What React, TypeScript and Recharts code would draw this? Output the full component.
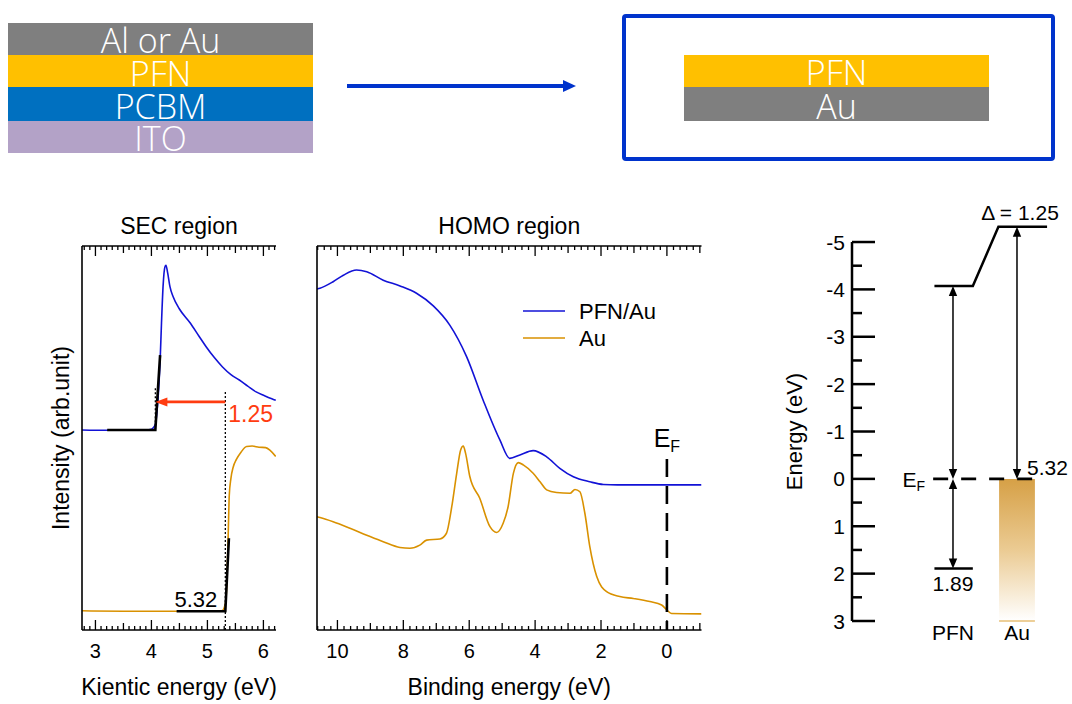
import React from 'react';
import {
  LineChart,
  Line,
  XAxis,
  YAxis,
  Legend,
  ReferenceLine,
  ReferenceDot,
  ReferenceArea,
} from 'recharts';

const FONT = '"Liberation Sans", Arial, sans-serif';
const LAYER_FONT = '"Open Sans", "Noto Sans", sans-serif';
const BLUE = '#1212D6';
const GOLD = '#D99100';
const RED = '#FF3C10';
const ARROW_BLUE = '#0033CC';

// device stack and measured sample
const stackLayers = ['Al or Au', 'PFN', 'PCBM', 'ITO'];
const stackColors = ['#7F7F7F', '#FFC000', '#0070C0', '#B3A2C7'];
const sampleLayers = ['PFN', 'Au'];
const sampleColors = ['#FFC000', '#7F7F7F'];

// energy levels (eV), Fermi level at 0
const auWorkFunction = 5.32;
const dipoleShift = 1.25;
const pfnHomoOffset = 1.89;

// SEC region: kinetic energy (eV), intensity (arb. unit)
const secPfnAu: [number, number][] = [
  [2.76, 52.1], [3.2, 52.0], [3.6, 52.1], [3.9, 52.1], [4.0, 52.3], [4.04, 52.8],
  [4.07, 53.5], [4.1, 57], [4.13, 63], [4.155, 70], [4.18, 80], [4.21, 90],
  [4.24, 94.5], [4.26, 95], [4.29, 93], [4.33, 89.5], [4.39, 86.7], [4.5, 83.6],
  [4.69, 80], [4.85, 76.5], [4.98, 73.7], [5.12, 71], [5.27, 68.5], [5.42, 66.5],
  [5.57, 65.1], [5.72, 63.5], [5.87, 62], [6.02, 61], [6.15, 60.2], [6.22, 59.8],
];
const secAu: [number, number][] = [
  [2.76, 5.0], [3.5, 4.9], [4.5, 4.9], [5.2, 4.9], [5.27, 5.1], [5.3, 5.8],
  [5.33, 7.8], [5.355, 16], [5.375, 27], [5.39, 35], [5.42, 39.5], [5.46, 42.4],
  [5.52, 44.5], [5.6, 46.3], [5.7, 47.8], [5.8, 47.9], [5.92, 47.6], [6.04, 47.5],
  [6.12, 46.8], [6.22, 45.2],
];
// linear fits of the cutoff edges
const secPfnAuFit: [number, number][] = [[3.21, 52.1], [auWorkFunction - dipoleShift, 52.1], [4.155, 71.6]];
const secAuFit: [number, number][] = [[4.45, 4.9], [auWorkFunction, 4.9], [5.384, 23.9]];
const secTickLabels = [3, 4, 5, 6];

// HOMO region: binding energy (eV), intensity (arb. unit)
const homoSeries = ['PFN/Au', 'Au'];
const homoPfnAu: [number, number][] = [
  [10.62, 88.8], [10.53, 89.0], [10.13, 90.7], [9.82, 92.4], [9.42, 93.75], [9.11, 93.3],
  [8.61, 91.1], [8.1, 89.6], [7.6, 87.7], [7.09, 84.4], [6.59, 79.4], [6.08, 71.2],
  [5.58, 59.9], [5.07, 49.5], [4.77, 44.7], [4.46, 45.6], [4.06, 46.7], [3.65, 45.1],
  [3.25, 42.1], [2.84, 39.9], [2.34, 38.6], [1.93, 37.9], [1.5, 37.8], [0.5, 37.8],
  [-1.05, 37.8],
];
const homoAu: [number, number][] = [
  [10.62, 29.5], [10.53, 29.3], [10.13, 28.2], [9.62, 26.5], [9.11, 24.7], [8.61, 23.0],
  [8.1, 21.5], [7.8, 21.3], [7.5, 22.1], [7.29, 23.4], [6.89, 23.7], [6.69, 25.2],
  [6.53, 32.1], [6.38, 40.8], [6.26, 46.9], [6.18, 47.9], [6.11, 46.0], [5.98, 39.9],
  [5.68, 34.3], [5.37, 26.9], [5.17, 25.4], [4.97, 27.8], [4.82, 32.1], [4.66, 40.8],
  [4.51, 43.6], [4.36, 43.0], [4.06, 40.8], [3.85, 38.6], [3.65, 36.5], [3.35, 35.8],
  [2.94, 35.6], [2.79, 36.6], [2.64, 36.0], [2.49, 30.4], [2.34, 21.7], [2.13, 13.9],
  [1.83, 10.0], [1.43, 8.7], [1.02, 8.2], [0.52, 7.4], [0.16, 6.5], [0.0, 5.2],
  [-0.14, 4.3], [-1.05, 4.2],
];
const homoTickLabels = [10, 8, 6, 4, 2, 0];

const energyTicks = [-5, -4.5, -4, -3.5, -3, -2.5, -2, -1.5, -1, -0.5, 0, 0.5, 1, 1.5, 2, 2.5, 3];

const SEC_DOMAIN: [number, number] = [2.76, 6.225];
const HOMO_DOMAIN: [number, number] = [-1.05, 10.62];
const INTENSITY: [number, number] = [0, 100];

const steps = (from: number, to: number, step: number) => {
  const out: number[] = [];
  for (let v = from; v <= to + 1e-9; v += step) out.push(Math.round(v * 100) / 100);
  return out;
};
const secTicks = steps(2.8, 6.2, 0.1);
const homoTicks = steps(-1.0, 10.6, 0.2);

const toPoints = (pairs: [number, number][]) => pairs.map(([x, y]) => ({ x, y }));
const isMultiple = (v: number, step: number) => Math.abs(v / step - Math.round(v / step)) < 1e-6;

const frameLine = { stroke: '#000', strokeWidth: 1.6 };

// inward ticks on the top/bottom frame, numbers only under the bottom one
const frameTick = (side: 'top' | 'bottom', major: number, mid: number, labels: number[]) => (props: any) => {
  const { x, y, payload } = props;
  const v = payload.value as number;
  const len = isMultiple(v, major) ? 10 : isMultiple(v, mid) ? 7 : 4;
  const dir = side === 'bottom' ? -1 : 1;
  const idx = side === 'bottom' ? labels.findIndex((l) => Math.abs(l - v) < 1e-6) : -1;
  return (
    <g>
      <line x1={x} x2={x} y1={y} y2={y + dir * len} stroke="#000" strokeWidth={1.3} />
      {idx >= 0 && (
        <text x={x} y={y + 28} textAnchor="middle" fontSize={20} fill="#000">
          {labels[idx]}
        </text>
      )}
    </g>
  );
};

type ArrowOpts = { color: string; width: number; head: number; half: number; start?: boolean; end?: boolean };
const arrowShape = ({ color, width, head, half, start, end }: ArrowOpts) => (p: any) => {
  const { x1, y1, x2, y2 } = p;
  const len = Math.hypot(x2 - x1, y2 - y1) || 1;
  const ux = (x2 - x1) / len;
  const uy = (y2 - y1) / len;
  const tri = (tx: number, ty: number, dx: number, dy: number) => {
    const bx = tx - dx * head;
    const by = ty - dy * head;
    return `${tx},${ty} ${bx - dy * half},${by + dx * half} ${bx + dy * half},${by - dx * half}`;
  };
  const sx = start ? x1 + ux * head * 0.8 : x1;
  const sy = start ? y1 + uy * head * 0.8 : y1;
  const ex = end ? x2 - ux * head * 0.8 : x2;
  const ey = end ? y2 - uy * head * 0.8 : y2;
  return (
    <g>
      <line x1={sx} y1={sy} x2={ex} y2={ey} stroke={color} strokeWidth={width} />
      {start && <polygon points={tri(x1, y1, -ux, -uy)} fill={color} />}
      {end && <polygon points={tri(x2, y2, ux, uy)} fill={color} />}
    </g>
  );
};

type TextOpts = { dx?: number; dy?: number; anchor?: 'start' | 'middle' | 'end'; size?: number; color?: string; rotate?: boolean };
const textAt = (content: React.ReactNode, o: TextOpts) => (p: any) => {
  const x = p.cx + (o.dx ?? 0);
  const y = p.cy + (o.dy ?? 0);
  return (
    <text
      x={x}
      y={y}
      dy={o.rotate ? '0.35em' : undefined}
      textAnchor={o.anchor ?? 'middle'}
      fontSize={o.size ?? 21}
      fill={o.color ?? '#000'}
      transform={o.rotate ? `rotate(-90 ${x} ${y})` : undefined}
    >
      {content}
    </text>
  );
};

const Schematic = () => {
  const stackEdges = [23, 55, 87, 121, 153];
  const stackBase = [53, 86, 119, 151];
  const sampleEdges = [55, 87, 121];
  const sampleBase = [85, 119];
  return (
    <svg width={1072} height={175} style={{ position: 'absolute', left: 0, top: 0 }}>
      {stackLayers.map((name, i) => (
        <g key={name}>
          <rect x={8} y={stackEdges[i]} width={305} height={stackEdges[i + 1] - stackEdges[i]} fill={stackColors[i]} />
          <text x={160.5} y={stackBase[i]} textAnchor="middle" fill="#fff" fontSize={34} fontFamily={LAYER_FONT} fontWeight={300}>
            {name}
          </text>
        </g>
      ))}
      <line x1={347} y1={86} x2={564} y2={86} stroke={ARROW_BLUE} strokeWidth={4} />
      <polygon points="563,80 576,86 563,92" fill={ARROW_BLUE} />
      <rect x={624} y={16} width={429} height={143} fill="none" stroke={ARROW_BLUE} strokeWidth={4} rx={2} />
      {sampleLayers.map((name, i) => (
        <g key={name}>
          <rect x={684} y={sampleEdges[i]} width={305} height={sampleEdges[i + 1] - sampleEdges[i]} fill={sampleColors[i]} />
          <text x={836.5} y={sampleBase[i]} textAnchor="middle" fill="#fff" fontSize={34} fontFamily={LAYER_FONT} fontWeight={300}>
            {name}
          </text>
        </g>
      ))}
    </svg>
  );
};

const SecPanel = () => {
  const pfnCutoff = auWorkFunction - dipoleShift;
  return (
    <div style={{ position: 'absolute', left: 0, top: 190 }}>
      <LineChart width={300} height={514} margin={{ top: 0, right: 24, bottom: 0, left: 0 }}>
        <XAxis
          type="number"
          dataKey="x"
          domain={SEC_DOMAIN}
          allowDataOverflow
          ticks={secTicks}
          interval={0}
          height={74}
          tickSize={0}
          tickMargin={0}
          tickLine={false}
          axisLine={frameLine}
          tick={frameTick('bottom', 1, 0.5, secTickLabels)}
          label={{ value: 'Kientic energy (eV)', position: 'insideBottom', offset: 9, fontSize: 23, fill: '#000' }}
        />
        <XAxis
          xAxisId="top"
          orientation="top"
          type="number"
          dataKey="x"
          domain={SEC_DOMAIN}
          allowDataOverflow
          ticks={secTicks}
          interval={0}
          height={56}
          tickSize={0}
          tickMargin={0}
          tickLine={false}
          axisLine={frameLine}
          tick={frameTick('top', 1, 0.5, [])}
          label={{ value: 'SEC region', position: 'insideTop', offset: 28, fontSize: 23, fill: '#000' }}
        />
        <YAxis
          type="number"
          domain={INTENSITY}
          allowDataOverflow
          width={82}
          tick={false}
          tickLine={false}
          axisLine={frameLine}
          label={{ value: 'Intensity (arb.unit)', angle: -90, position: 'insideLeft', offset: 61, fontSize: 23, fill: '#000', style: { textAnchor: 'middle' } }}
        />
        <YAxis yAxisId="right" orientation="right" type="number" domain={INTENSITY} width={0} tick={false} tickLine={false} axisLine={frameLine} />

        <Line data={toPoints(secPfnAu)} dataKey="y" type="monotone" stroke={BLUE} strokeWidth={1.6} dot={false} activeDot={false} isAnimationActive={false} />
        <Line data={toPoints(secAu)} dataKey="y" type="monotone" stroke={GOLD} strokeWidth={1.6} dot={false} activeDot={false} isAnimationActive={false} />
        <Line data={toPoints(secPfnAuFit)} dataKey="y" type="linear" stroke="#000" strokeWidth={2.6} dot={false} activeDot={false} legendType="none" isAnimationActive={false} />
        <Line data={toPoints(secAuFit)} dataKey="y" type="linear" stroke="#000" strokeWidth={2.6} dot={false} activeDot={false} legendType="none" isAnimationActive={false} />

        <ReferenceLine segment={[{ x: pfnCutoff, y: 52 }, { x: pfnCutoff, y: 63 }]} stroke="#000" strokeWidth={1.3} strokeDasharray="2 2" />
        <ReferenceLine segment={[{ x: auWorkFunction, y: 0 }, { x: auWorkFunction, y: 62.5 }]} stroke="#000" strokeWidth={1.3} strokeDasharray="2 2" />
        <ReferenceLine
          segment={[{ x: auWorkFunction, y: 59.4 }, { x: pfnCutoff, y: 59.4 }]}
          shape={arrowShape({ color: RED, width: 2.6, head: 12, half: 4.5, end: true })}
        />
        <ReferenceDot x={auWorkFunction} y={54.2} shape={textAt(dipoleShift.toFixed(2), { dx: 3, anchor: 'start', size: 23, color: RED })} />
        <ReferenceDot x={auWorkFunction} y={4.9} shape={textAt(auWorkFunction.toFixed(2), { dx: -8, dy: -4.5, anchor: 'end', size: 22 })} />
      </LineChart>
    </div>
  );
};

// legend rows keep the series order (PFN/Au above Au)
const renderLegend = (props: any) => {
  const items = [...(props.payload || [])].sort(
    (a: any, b: any) => homoSeries.indexOf(a.value) - homoSeries.indexOf(b.value),
  );
  return (
    <div style={{ fontFamily: FONT, fontSize: 22, color: '#000' }}>
      {items.map((p: any) => (
        <div key={p.value} style={{ display: 'flex', alignItems: 'center', height: 27 }}>
          <svg width={42} height={4}>
            <line x1={0} x2={42} y1={2} y2={2} stroke={p.color} strokeWidth={1.6} />
          </svg>
          <span style={{ marginLeft: 14, lineHeight: '27px' }}>{p.value}</span>
        </div>
      ))}
    </div>
  );
};

const HomoPanel = () => (
  <div style={{ position: 'absolute', left: 300, top: 190 }}>
    <LineChart width={420} height={514} margin={{ top: 0, right: 18.5, bottom: 0, left: 0 }}>
      <XAxis
        type="number"
        dataKey="x"
        domain={HOMO_DOMAIN}
        allowDataOverflow
        reversed
        ticks={homoTicks}
        interval={0}
        height={74}
        tickSize={0}
        tickMargin={0}
        tickLine={false}
        axisLine={frameLine}
        tick={frameTick('bottom', 2, 1, homoTickLabels)}
        label={{ value: 'Binding energy (eV)', position: 'insideBottom', offset: 9, fontSize: 23, fill: '#000' }}
      />
      <XAxis
        xAxisId="top"
        orientation="top"
        type="number"
        dataKey="x"
        domain={HOMO_DOMAIN}
        allowDataOverflow
        reversed
        ticks={homoTicks}
        interval={0}
        height={56}
        tickSize={0}
        tickMargin={0}
        tickLine={false}
        axisLine={frameLine}
        tick={frameTick('top', 2, 1, [])}
        label={{ value: 'HOMO region', position: 'insideTop', offset: 28, fontSize: 23, fill: '#000' }}
      />
      <YAxis type="number" domain={INTENSITY} allowDataOverflow width={17} tick={false} tickLine={false} axisLine={frameLine} />
      <YAxis yAxisId="right" orientation="right" type="number" domain={INTENSITY} width={0} tick={false} tickLine={false} axisLine={frameLine} />

      <Line name={homoSeries[0]} data={toPoints(homoPfnAu)} dataKey="y" type="monotone" stroke={BLUE} strokeWidth={1.6} dot={false} activeDot={false} isAnimationActive={false} />
      <Line name={homoSeries[1]} data={toPoints(homoAu)} dataKey="y" type="monotone" stroke={GOLD} strokeWidth={1.6} dot={false} activeDot={false} isAnimationActive={false} />

      <ReferenceLine segment={[{ x: 0, y: 44.5 }, { x: 0, y: 0 }]} stroke="#000" strokeWidth={2.6} strokeDasharray="18 9" />
      <ReferenceDot
        x={0}
        y={47.7}
        shape={(p: any) => (
          <text x={p.cx} y={p.cy} textAnchor="middle" fontSize={25} fill="#000">
            E<tspan fontSize={16} dy={5}>F</tspan>
          </text>
        )}
      />
      <Legend
        layout="vertical"
        align="center"
        verticalAlign="middle"
        wrapperStyle={{ left: 223, top: 107.5, width: 'auto' }}
        content={renderLegend}
      />
    </LineChart>
  </div>
);

// level diagram columns: PFN at x = 0, Au at x = 1
const DIAGRAM_X: [number, number] = [-1.578, 1.797];
const DIAGRAM_E: [number, number] = [-5.6, 3];

const energyTick = (props: any) => {
  const { x, y, payload } = props;
  const v = payload.value as number;
  const whole = isMultiple(v, 1);
  return (
    <g>
      <line x1={x} x2={x + (whole ? 23 : 10)} y1={y} y2={y} stroke="#000" strokeWidth={2.5} />
      {whole && (
        <text x={x - 7} y={y} dy="0.36em" textAnchor="end" fontSize={21} fill="#000">
          {v}
        </text>
      )}
    </g>
  );
};

const LevelDiagram = () => {
  const pfnVacuum = -(auWorkFunction - dipoleShift);
  const auVacuum = -auWorkFunction;
  const vacuumPath = [
    { x: -0.29, e: pfnVacuum },
    { x: 0.31, e: pfnVacuum },
    { x: 0.71, e: auVacuum },
    { x: 1.47, e: auVacuum },
  ];
  const homoLevel = [
    { x: -0.29, e: pfnHomoOffset },
    { x: 0.31, e: pfnHomoOffset },
  ];
  const thinArrow = arrowShape({ color: '#000', width: 1.5, head: 10, half: 4.2, start: true, end: true });
  return (
    <div style={{ position: 'absolute', left: 760, top: 190 }}>
      <LineChart width={312} height={490} margin={{ top: 23.6, right: 4, bottom: 59, left: 0 }}>
        <defs>
          <linearGradient id="auFill" x1="0" y1="0" x2="0" y2="1">
            <stop offset="0" stopColor="#D6A046" />
            <stop offset="0.5" stopColor="#EBCB93" />
            <stop offset="1" stopColor="#FFFFFF" />
          </linearGradient>
        </defs>
        <XAxis type="number" dataKey="x" domain={DIAGRAM_X} allowDataOverflow hide />
        <YAxis
          type="number"
          domain={DIAGRAM_E}
          allowDataOverflow
          reversed
          ticks={energyTicks}
          interval={0}
          width={92}
          tickSize={0}
          tickMargin={0}
          tickLine={false}
          axisLine={false}
          tick={energyTick}
        />
        <ReferenceLine segment={[{ x: DIAGRAM_X[0], y: -5 }, { x: DIAGRAM_X[0], y: 3 }]} stroke="#000" strokeWidth={2.5} />
        <ReferenceDot x={DIAGRAM_X[0]} y={-1} shape={textAt('Energy (eV)', { dx: -58, size: 22, rotate: true })} />

        <ReferenceArea x1={0.72} x2={1.28} y1={0} y2={3} fill="url(#auFill)" fillOpacity={1} stroke="none" />
        <ReferenceLine segment={[{ x: 0.72, y: 3 }, { x: 1.28, y: 3 }]} stroke="#EDCF98" strokeWidth={2} />

        <Line data={vacuumPath} dataKey="e" type="linear" stroke="#000" strokeWidth={2.5} dot={false} activeDot={false} isAnimationActive={false} />
        <Line data={homoLevel} dataKey="e" type="linear" stroke="#000" strokeWidth={2.5} dot={false} activeDot={false} isAnimationActive={false} />

        <ReferenceLine segment={[{ x: -0.31, y: 0 }, { x: 1.28, y: 0 }]} stroke="#000" strokeWidth={2.6} strokeDasharray="15 13" />
        <ReferenceLine segment={[{ x: 0, y: pfnVacuum }, { x: 0, y: 0 }]} shape={thinArrow} />
        <ReferenceLine segment={[{ x: 0, y: 0 }, { x: 0, y: pfnHomoOffset }]} shape={thinArrow} />
        <ReferenceLine segment={[{ x: 1, y: auVacuum }, { x: 1, y: 0 }]} shape={thinArrow} />

        <ReferenceDot
          x={-0.31}
          y={0}
          shape={(p: any) => (
            <text x={p.cx - 8} y={p.cy + 8} textAnchor="end" fontSize={21} fill="#000">
              E<tspan fontSize={14} dy={4}>F</tspan>
            </text>
          )}
        />
        <ReferenceDot x={1} y={0} shape={textAt(auWorkFunction.toFixed(2), { dx: 10, dy: -4, anchor: 'start' })} />
        <ReferenceDot x={1} y={auVacuum} shape={textAt(`Δ = ${dipoleShift.toFixed(2)}`, { dx: 3, dy: -7 })} />
        <ReferenceDot x={0} y={pfnHomoOffset} shape={textAt(pfnHomoOffset.toFixed(2), { dy: 23 })} />
        <ReferenceDot x={0} y={3} shape={textAt('PFN', { dy: 19 })} />
        <ReferenceDot x={1} y={3} shape={textAt('Au', { dy: 19 })} />
      </LineChart>
    </div>
  );
};

export default function App() {
  return (
    <div
      style={{
        position: 'absolute',
        left: 0,
        top: 0,
        width: 1072,
        height: 704,
        background: '#fff',
        fontFamily: FONT,
        overflow: 'hidden',
      }}
    >
      <Schematic />
      <SecPanel />
      <HomoPanel />
      <LevelDiagram />
    </div>
  );
}
